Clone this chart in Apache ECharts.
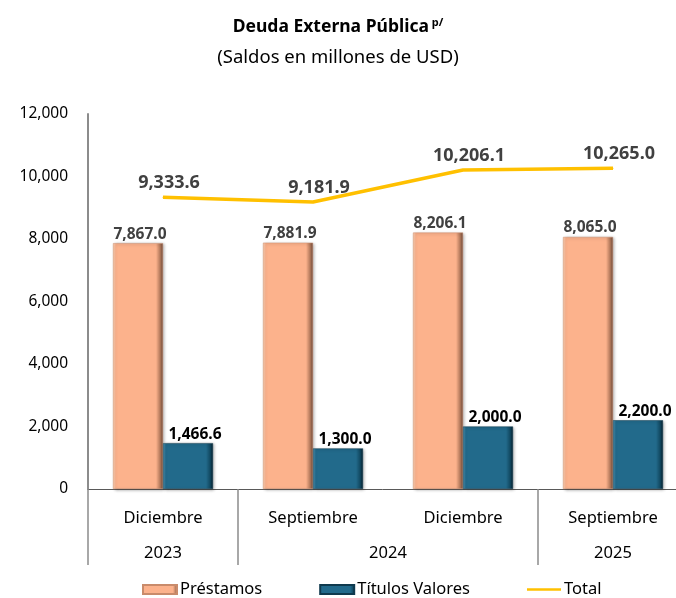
<!DOCTYPE html>
<html>
<head>
<meta charset="utf-8">
<script src="https://cdn.jsdelivr.net/npm/echarts@6/dist/echarts.min.js"></script>
<style>
  html, body { margin: 0; padding: 0; background: #fff; }
  #chart { width: 676px; height: 598px; }
</style>
</head>
<body>
<div id="chart"></div>
<script>
// Periods on the first axis level and their year groups on the second level
const periods = ['Diciembre', 'Septiembre', 'Diciembre', 'Septiembre'];
const yearGroups = ['2023', '2024', '2025'];
const yearSpans = [1, 2, 1];

// Balances in millions of USD
const prestamos = [7867.0, 7881.9, 8206.1, 8065.0];
const titulosValores = [1466.6, 1300.0, 2000.0, 2200.0];
const total = [9333.6, 9181.9, 10206.1, 10265.0];

// Value axis ticks
const yTicks = [0, 2000, 4000, 6000, 8000, 10000, 12000];

const FONT = '"Noto Sans", "Open Sans", sans-serif';

function fmt(v) {
  return Number(v).toLocaleString('en-US', { minimumFractionDigits: 1, maximumFractionDigits: 1 });
}

// Year level: a half-step slot grid (2n+1 slots) so group labels can sit between categories
const slotCount = periods.length * 2 + 1;
const yearSlots = new Array(slotCount).fill('');
const groupEdgeSlots = [];
let start = 0;
yearGroups.forEach((y, i) => {
  groupEdgeSlots.push(start * 2);
  yearSlots[start * 2 + yearSpans[i]] = y;
  start += yearSpans[i];
});

function barGradient(light, main, dark, edge) {
  return new echarts.graphic.LinearGradient(0, 0, 1, 0, [
    { offset: 0, color: light },
    { offset: 0.06, color: main },
    { offset: 0.86, color: main },
    { offset: 0.94, color: dark },
    { offset: 1, color: edge }
  ]);
}

const chart = echarts.init(document.getElementById('chart'), null, { renderer: 'canvas' });

chart.setOption({
  backgroundColor: '#fff',
  animation: false,
  title: {
    left: 'center',
    top: 12,
    text: '{main|Deuda Externa Pública}{sup| p/}',
    subtext: '(Saldos en millones de USD)',
    itemGap: 12,
    textStyle: {
      rich: {
        main: { fontFamily: FONT, fontSize: 17.5, fontWeight: 'bold', color: '#000' },
        sup: { fontFamily: FONT, fontSize: 11, fontWeight: 'bold', color: '#000', verticalAlign: 'top', padding: [0, 0, 10, 0] }
      }
    },
    subtextStyle: { fontFamily: FONT, fontSize: 18.5, color: '#000' }
  },
  legend: {
    bottom: -5,
    left: 137,
    itemGap: 57,
    itemWidth: 34,
    itemHeight: 9,
    textStyle: { fontFamily: FONT, fontSize: 16.5, color: '#000', padding: [0, 0, 0, -2] },
    data: [
      { name: 'Préstamos', icon: 'rect' },
      { name: 'Títulos Valores', icon: 'rect' },
      { name: 'Total', icon: 'path://M0,0H40V3H0Z' }
    ]
  },
  grid: { left: 88, width: 600, top: 114, bottom: 109, outerBoundsMode: 'none' },
  xAxis: [
    {
      type: 'category',
      data: periods,
      position: 'bottom',
      axisLine: { show: true, lineStyle: { color: '#595959', width: 1 } },
      axisTick: { show: false },
      axisLabel: { fontFamily: FONT, fontSize: 16.5, color: '#000', margin: 21, interval: 0 }
    },
    {
      type: 'category',
      data: yearSlots,
      position: 'bottom',
      boundaryGap: false,
      axisLine: { show: false },
      axisTick: {
        show: true,
        length: 76,
        interval: (idx) => groupEdgeSlots.indexOf(idx) !== -1,
        lineStyle: { color: '#8c8c8c', width: 1.5 }
      },
      axisLabel: {
        fontFamily: FONT, fontSize: 16.5, color: '#000', margin: 56,
        interval: (idx, val) => val !== ''
      }
    }
  ],
  yAxis: {
    type: 'value',
    min: yTicks[0],
    max: yTicks[yTicks.length - 1],
    interval: yTicks[1] - yTicks[0],
    axisLine: { show: true, lineStyle: { color: '#8c8c8c', width: 2 } },
    axisTick: { show: false },
    splitLine: { show: false },
    axisLabel: {
      fontFamily: FONT, fontSize: 15.5, color: '#000', margin: 20,
      formatter: (v) => v.toLocaleString('en-US')
    }
  },
  series: [
    {
      name: 'Préstamos',
      type: 'bar',
      data: prestamos,
      barWidth: 50,
      barGap: '0%',
      itemStyle: {
        color: barGradient('#FFD3B6', '#FCB28C', '#B47A5C', '#6E4A3A'),
        borderColor: '#C98B6B',
        borderWidth: 0.5,
        shadowColor: 'rgba(0,0,0,0.35)',
        shadowBlur: 3,
        shadowOffsetX: 1.5,
        shadowOffsetY: 1
      },
      label: {
        show: true, position: 'top', distance: 1, offset: [2, 0],
        fontFamily: FONT, fontSize: 15.5, fontWeight: 'bold', color: '#404040',
        formatter: (p) => fmt(p.value)
      }
    },
    {
      name: 'Títulos Valores',
      type: 'bar',
      data: titulosValores,
      barWidth: 50,
      barGap: '0%',
      itemStyle: {
        color: barGradient('#4A90B0', '#226A8B', '#124A63', '#06202D'),
        borderColor: '#0F3A4E',
        borderWidth: 0.5,
        shadowColor: 'rgba(0,0,0,0.35)',
        shadowBlur: 3,
        shadowOffsetX: 1.5,
        shadowOffsetY: 1
      },
      label: {
        show: true, position: 'top', distance: 1, offset: [7, 0],
        fontFamily: FONT, fontSize: 15.5, fontWeight: 'bold', color: '#000',
        formatter: (p) => fmt(p.value)
      }
    },
    {
      name: 'Total',
      type: 'line',
      data: total,
      symbol: 'circle',
      symbolSize: 1,
      showSymbol: true,
      itemStyle: { color: '#FFC000' },
      lineStyle: { color: '#FFC000', width: 3.5 },
      label: {
        show: true, position: 'top', distance: 5, offset: [6, 0],
        fontFamily: FONT, fontSize: 18, fontWeight: 'bold', color: '#404040',
        formatter: (p) => fmt(p.value)
      },
      z: 5
    }
  ]
});
</script>
</body>
</html>
